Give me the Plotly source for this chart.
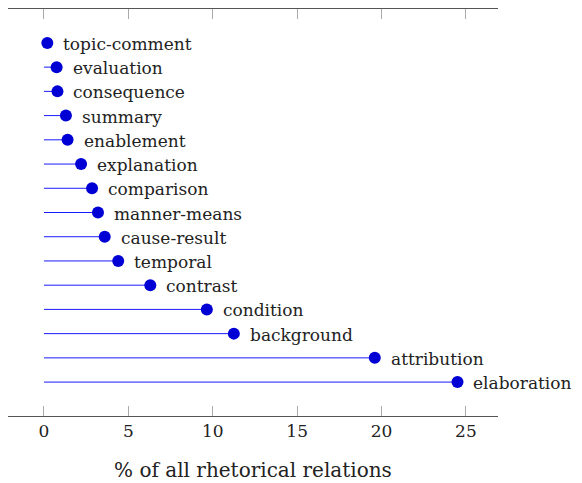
import plotly.graph_objects as go

categories = ["elaboration", "attribution", "background", "condition", "contrast",
              "temporal", "cause-result", "manner-means", "comparison", "explanation",
              "enablement", "summary", "consequence", "evaluation", "topic-comment"]
values = [24.5, 19.6, 11.25, 9.65, 6.3, 4.4, 3.6, 3.2, 2.85, 2.2, 1.4, 1.3, 0.8, 0.75, 0.2]
x_ticks = [0, 5, 10, 15, 20, 25]

FONT = "DejaVu Serif"
ypos = list(range(len(categories)))

line_x, line_y = [], []
for v, y in zip(values, ypos):
    line_x += [0, v, None]
    line_y += [y, y, None]

fig = go.Figure()
fig.add_trace(go.Scatter(x=line_x, y=line_y, mode="lines",
                         line=dict(color="#1a1aff", width=1), hoverinfo="skip"))
fig.add_trace(go.Scatter(x=values, y=ypos, mode="markers",
                         marker=dict(color="#0000d4", size=12, line=dict(width=0))))

for v, y, c in zip(values, ypos, categories):
    fig.add_annotation(x=v, y=y, text=c, showarrow=False, xanchor="left",
                       yanchor="middle", xshift=14, yshift=-1,
                       font=dict(family=FONT, size=17, color="#222"))

fig.update_layout(
    width=574, height=476,
    margin=dict(l=0, r=84, t=1, b=68),
    paper_bgcolor="white", plot_bgcolor="white",
    showlegend=False,
    xaxis=dict(range=[-2.13, 26.9], tickvals=x_ticks, ticktext=[str(t) for t in x_ticks],
               showline=True, linecolor="#555", linewidth=1, mirror="ticks",
               ticks="inside", ticklen=10, tickcolor="#aaa", tickwidth=1,
               showgrid=False, zeroline=False, automargin=False,
               tickfont=dict(family=FONT, size=17, color="#222"),
               title=dict(text="% of all rhetorical relations",
                          font=dict(family=FONT, size=20, color="#222"), standoff=22)),
    yaxis=dict(range=[-1.4, 15.4], visible=False, showgrid=False, zeroline=False),
)

fig.write_html("out.html")
